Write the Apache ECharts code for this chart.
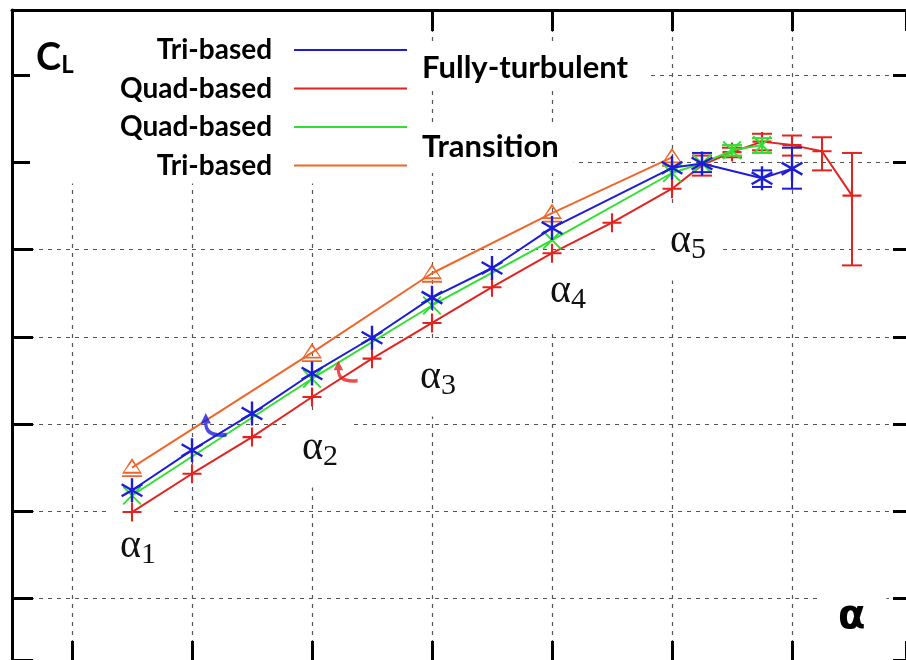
<!DOCTYPE html>
<html>
<head>
<meta charset="utf-8">
<script src="https://cdn.jsdelivr.net/npm/echarts@6/dist/echarts.min.js"></script>
<style>
html, body { margin: 0; padding: 0; background: #fff; overflow: hidden; }
#chart { width: 906px; height: 660px; }
</style>
</head>
<body>
<div id="chart"></div>
<script>
// angle of attack positions (grid units) and lift coefficient values
const alphaTriFT = [1.5, 2, 2.5, 3, 3.5, 4, 4.5, 5, 6, 6.25, 6.75, 7];
const clTriFT = [1.24, 1.70, 2.12, 2.58, 2.99, 3.45, 3.79, 4.25, 4.94, 4.99, 4.82, 4.93];

const alphaQuadFT = [1.5, 2, 2.5, 3, 3.5, 4, 4.5, 5, 5.5, 6, 6.25, 6.5, 6.75, 7, 7.25, 7.5];
const clQuadFT = [0.99, 1.43, 1.85, 2.31, 2.75, 3.16, 3.57, 3.96, 4.31, 4.70, 4.97, 5.12, 5.24, 5.20, 5.13, 4.62];

const alphaQuadTR = [1.5, 3, 4, 5, 6, 6.25, 6.5, 6.75];
const clQuadTR = [1.18, 2.52, 3.36, 4.11, 4.88, 4.99, 5.14, 5.20];

const alphaTriTR = [1.5, 3, 4, 5, 6];
const clTriTR = [1.50, 2.82, 3.73, 4.42, 5.06];

// error bars: [alpha, low, high]
const errTriFT = [[6.25, 4.89, 5.11], [6.75, 4.72, 4.91], [7, 4.70, 5.17]];
const errQuadFT = [[6.25, 4.85, 5.08], [6.5, 5.06, 5.17], [6.75, 5.14, 5.33], [7, 5.08, 5.31], [7.25, 4.91, 5.29], [7.5, 3.82, 5.11]];
const errQuadTR = [[6.5, 5.08, 5.20], [6.75, 5.11, 5.28]];

// small hook arrows
const hookTri = [[2.18, 1.99]];
const hookQuad = [[3.28, 2.60]];

const legendNames = ['Tri-based (FT)', 'Quad-based (FT)', 'Quad-based (TR)', 'Tri-based (TR)'];
const alphaLabels = ['1', '2', '3', '4', '5'];

const BLUE = '#1d1dd8';
const RED = '#e3231f';
const GREEN = '#30e030';
const ORANGE = '#f0662a';

const starPath = 'path://M45 0 L55 0 L55 100 L45 100 Z M4.2 29.3 L9.2 20.7 L95.8 70.7 L90.8 79.3 Z M4.2 70.7 L90.8 20.7 L95.8 29.3 L9.2 79.3 Z';
const plusPath = 'path://M44.5 0 L55.5 0 L55.5 100 L44.5 100 Z M0 44.5 L100 44.5 L100 55.5 L0 55.5 Z';
const crossPath = 'path://M0 7 L7 0 L100 93 L93 100 Z M93 0 L100 7 L7 100 L0 93 Z';
const triPath = 'path://M50 0 L100 80 L0 80 Z M50 17 L12 70 L88 70 Z M0 88 L100 88 L100 98 L0 98 Z';
const hookPath = 'path://M0 38 L20 0 L40 38 Z M14 38 Q14 94 100 86 L100 72 Q28 80 26 38 Z';

function pairs(xs, ys) {
    return xs.map((x, i) => [x, ys[i]]);
}

function lineSeries(name, xs, ys, color, symbol, size, z) {
    return {
        name: name,
        type: 'line',
        data: pairs(xs, ys),
        symbol: symbol,
        symbolSize: size,
        lineStyle: { color: color, width: 2 },
        itemStyle: { color: color },
        z: z,
        emphasis: { disabled: true },
    };
}

function errorSeries(data, color, z) {
    return {
        type: 'custom',
        data: data,
        z: z,
        silent: true,
        encode: { x: 0, y: [1, 2] },
        renderItem: (params, api) => {
            const x = api.value(0);
            const lo = api.coord([x, api.value(1)]);
            const hi = api.coord([x, api.value(2)]);
            const w = 10;
            const style = { stroke: color, lineWidth: 2 };
            return {
                type: 'group',
                children: [
                    { type: 'line', shape: { x1: lo[0], y1: lo[1], x2: hi[0], y2: hi[1] }, style: style },
                    { type: 'line', shape: { x1: lo[0] - w, y1: lo[1], x2: lo[0] + w, y2: lo[1] }, style: style },
                    { type: 'line', shape: { x1: hi[0] - w, y1: hi[1], x2: hi[0] + w, y2: hi[1] }, style: style },
                ],
            };
        },
    };
}

function hookSeries(data, color, size) {
    return {
        type: 'scatter',
        data: data,
        symbol: hookPath,
        symbolSize: size,
        itemStyle: { color: color },
        z: 5,
        silent: true,
    };
}

const serif = "'Liberation Serif', 'DejaVu Serif', serif";
function alphaTitle(sub, left, top) {
    return {
        text: '{a|α}{s|' + sub + '}',
        left: left,
        top: top,
        padding: [12, 13, 15, 14],
        backgroundColor: '#fff',
        z: 1,
        textStyle: {
            fontFamily: serif,
            fontWeight: 'normal',
            rich: {
                a: { fontFamily: serif, fontWeight: 'normal', fontSize: 40, lineHeight: 44, color: '#111' },
                s: { fontFamily: serif, fontWeight: 'normal', fontSize: 30, lineHeight: 24, padding: [19, 0, 0, 0], color: '#111' },
            },
        },
    };
}

const gridLineX = { show: true, showMinLine: false, showMaxLine: false, lineStyle: { color: '#555', width: 1.2, type: [4, 5] } };
const gridLineY = { show: true, showMinLine: false, showMaxLine: false, lineStyle: { color: '#555', width: 1.2, type: [4, 5] } };
const frameLine = { show: true, onZero: false, lineStyle: { color: '#000', width: 3 } };
const hiddenLine = { show: false, onZero: false };
const tick = (len) => ({ show: true, inside: true, length: len, lineStyle: { color: '#000', width: 3 } });

// the plot frame of the original runs a little past the right and bottom edges
const X_MIN = 0.5, X_MAX = 7.95;
const Y_MIN = -0.707, Y_MAX = 6.75;

const chart = echarts.init(document.getElementById('chart'));
chart.setOption({
    animation: false,
    backgroundColor: '#fff',
    grid: { left: 12, top: 10, right: 0, bottom: 0, containLabel: false, outerBoundsMode: 'none' },
    title: [
        {
            text: '{c|C}{l|L}',
            left: 36,
            top: 36,
            padding: 0,
            z: 10,
            textStyle: {
                rich: {
                    c: { fontFamily: 'Lato', fontWeight: 'bold', fontSize: 38, lineHeight: 44, color: '#000' },
                    l: { fontFamily: 'Lato', fontWeight: 'bold', fontSize: 24, lineHeight: 24, padding: [15, 0, 0, 0], color: '#000' },
                },
            },
        },
        {
            text: 'Fully-turbulent',
            left: 410,
            top: 42,
            padding: [8, 23, 4, 12],
            backgroundColor: '#fff',
            z: 1,
            textStyle: { fontFamily: 'Lato', fontWeight: 'bold', fontSize: 31, lineHeight: 36, color: '#000' },
        },
        {
            text: 'Transition',
            left: 410,
            top: 127,
            padding: [2, 15, 8, 12],
            backgroundColor: '#fff',
            z: 1,
            textStyle: { fontFamily: 'Lato', fontWeight: 'bold', fontSize: 31, lineHeight: 36, color: '#000' },
        },
        {
            text: 'α',
            left: 822,
            top: 594,
            padding: [2, 21, 14, 16],
            backgroundColor: '#fff',
            z: 1,
            textStyle: { fontFamily: 'DejaVu Sans', fontWeight: 'bold', fontSize: 40, lineHeight: 44, color: '#000' },
        },
        alphaTitle(alphaLabels[0], 106, 512),
        alphaTitle(alphaLabels[1], 288, 414),
        alphaTitle(alphaLabels[2], 406, 343),
        alphaTitle(alphaLabels[3], 536, 257),
        alphaTitle(alphaLabels[4], 656, 207),
    ],
    legend: {
        data: legendNames,
        orient: 'vertical',
        align: 'right',
        left: 30,
        top: 12,
        padding: [24, 13, 4, 90],
        itemGap: 10.5,
        itemWidth: 113,
        itemHeight: 2,
        icon: 'rect',
        selectedMode: false,
        backgroundColor: '#fff',
        formatter: (name) => name.replace(/ \(.*\)$/, ''),
        textStyle: {
            fontFamily: 'Lato',
            fontWeight: 'bold',
            fontSize: 28,
            lineHeight: 28,
            color: '#000',
            padding: [0, 17, 0, 0],
        },
    },
    xAxis: [
        {
            type: 'value',
            position: 'bottom',
            min: X_MIN,
            max: X_MAX,
            splitNumber: 7,
            axisLine: hiddenLine,
            axisTick: tick(19),
            axisLabel: { show: false },
            splitLine: gridLineX,
        },
        {
            type: 'value',
            position: 'top',
            min: X_MIN,
            max: X_MAX,
            splitNumber: 7,
            axisLine: frameLine,
            axisTick: tick(21),
            axisLabel: { show: false },
            splitLine: { show: false },
        },
    ],
    yAxis: [
        {
            type: 'value',
            position: 'left',
            min: Y_MIN,
            max: Y_MAX,
            splitNumber: 7,
            axisLine: frameLine,
            axisTick: tick(21),
            axisLabel: { show: false },
            splitLine: gridLineY,
        },
        {
            type: 'value',
            position: 'right',
            min: Y_MIN,
            max: Y_MAX,
            splitNumber: 7,
            axisLine: hiddenLine,
            axisTick: tick(13),
            axisLabel: { show: false },
            splitLine: { show: false },
        },
    ],
    series: [
        lineSeries(legendNames[3], alphaTriTR, clTriTR, ORANGE, triPath, [20, 19], 2),
        lineSeries(legendNames[1], alphaQuadFT, clQuadFT, RED, plusPath, 19, 3),
        errorSeries(errQuadFT, RED, 3),
        lineSeries(legendNames[2], alphaQuadTR, clQuadTR, GREEN, crossPath, 19, 4),
        errorSeries(errQuadTR, GREEN, 4),
        lineSeries(legendNames[0], alphaTriFT, clTriFT, BLUE, starPath, [22, 24], 5),
        errorSeries(errTriFT, BLUE, 5),
        hookSeries(hookTri, BLUE, [26, 24]),
        hookSeries(hookQuad, RED, [24, 22]),
    ],
});
</script>
</body>
</html>
